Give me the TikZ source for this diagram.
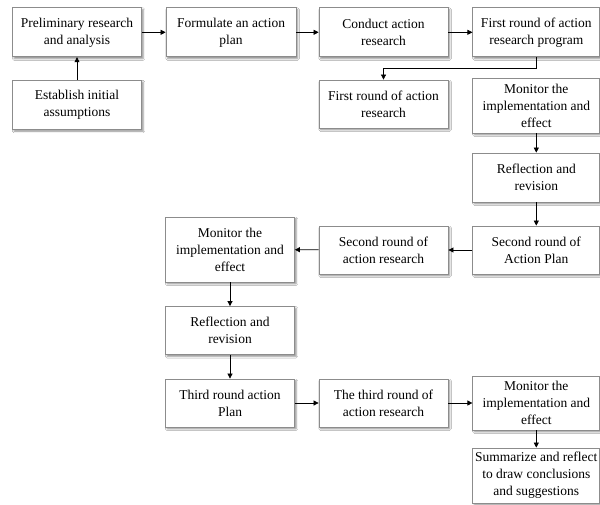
\documentclass[tikz,border=0pt]{standalone}
\usepackage{fontspec}
\setmainfont{Liberation Serif}
\usetikzlibrary{arrows.meta,shadows.blur}
\tikzset{
  box/.style={draw=black!45, line width=0.8pt, fill=white, align=center,
    inner sep=1pt, font=\fontsize{13.5}{17}\selectfont,
    blur shadow={shadow xshift=1.6pt, shadow yshift=-1.8pt, shadow blur radius=1.8pt, shadow opacity=45}},
  arr/.style={draw=black, line width=0.7pt, -{Triangle[length=5pt,width=5pt]}}
}
\begin{document}
\begin{tikzpicture}[x=1pt,y=-1pt]
\useasboundingbox[fill=white] (0,0) rectangle (600,504);
\node[box, minimum width=129pt, minimum height=49pt] (b1) at (77,32.3) {Preliminary research\\and analysis};
\node[box, minimum width=130pt, minimum height=49pt] (b2) at (231,32.3) {Formulate an action\\plan};
\node[box, minimum width=129pt, minimum height=49pt] (b3) at (383.5,32.3) {Conduct action\\research};
\node[box, minimum width=127pt, minimum height=49pt] (b4) at (536.3,32.3) {First round of action\\research program};
\node[box, minimum width=129pt, minimum height=49pt] (est) at (77,104.8) {Establish initial\\assumptions};
\node[box, minimum width=129pt, minimum height=48pt] (fr) at (383.5,104) {First round of action\\research};
\node[box, minimum width=127pt, minimum height=55pt] (mon1) at (536.3,105.5) {Monitor the\\implementation and\\effect};
\node[box, minimum width=127pt, minimum height=49pt] (ref1) at (536.3,177.5) {Reflection and\\revision};
\node[box, minimum width=127pt, minimum height=48pt] (sp) at (536.3,250) {Second round of\\Action Plan};
\node[box, minimum width=129pt, minimum height=48pt] (sr) at (383.5,250) {Second round of\\action research};
\node[box, minimum width=129pt, minimum height=65pt] (mon2) at (230,249.5) {Monitor the\\implementation and\\effect};
\node[box, minimum width=129pt, minimum height=48pt] (ref2) at (230,330.5) {Reflection and\\revision};
\node[box, minimum width=129pt, minimum height=48pt] (tp) at (230,403) {Third round action\\Plan};
\node[box, minimum width=129pt, minimum height=48pt] (tr) at (383.5,403) {The third round of\\action research};
\node[box, minimum width=127pt, minimum height=54pt] (mon3) at (536.3,403) {Monitor the\\implementation and\\effect};
\node[box, minimum width=127pt, minimum height=55pt] (sum) at (536.3,475.5) {Summarize and reflect\\to draw conclusions\\and suggestions};
\draw[arr] (est) -- (b1);
\draw[arr] (b1) -- (b2);
\draw[arr] (b2) -- (b3);
\draw[arr] (b3) -- (b4);
\draw[arr] (b4.south) |- (383.5,68) -- (fr.north);
\draw[arr] (mon1) -- (ref1);
\draw[arr] (ref1) -- (sp);
\draw[arr] (sp) -- (sr);
\draw[arr] (sr) -- (mon2);
\draw[arr] (mon2) -- (ref2);
\draw[arr] (ref2) -- (tp);
\draw[arr] (tp) -- (tr);
\draw[arr] (tr) -- (mon3);
\draw[arr] (mon3) -- (sum);
\end{tikzpicture}
\end{document}
